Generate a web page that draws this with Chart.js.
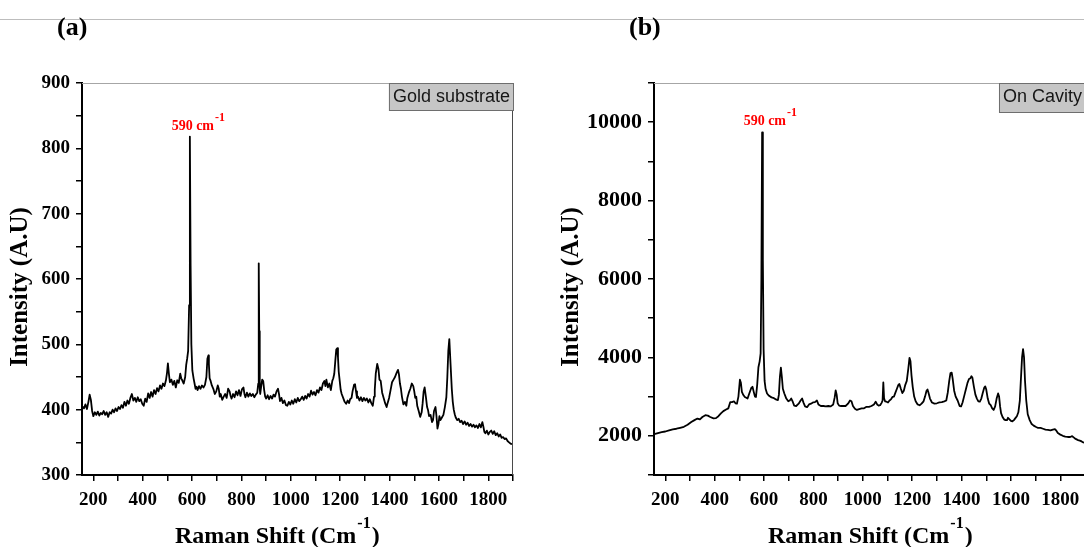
<!DOCTYPE html>
<html>
<head>
<meta charset="utf-8">
<script src="https://cdn.jsdelivr.net/npm/chart.js@4.4.1/dist/chart.umd.min.js"></script>
<style>
html,body{margin:0;padding:0;width:1084px;height:547px;overflow:hidden;background:#fff;}
#wrap{position:relative;width:1084px;height:547px;overflow:hidden;}
#cA{position:absolute;left:0;top:0;}
#cB{position:absolute;left:545px;top:0;}
#rule{position:absolute;left:0;top:19px;width:1084px;height:1px;background:#bdbdbd;}
</style>
</head>
<body>
<div id="wrap">
<div id="rule"></div>
<canvas id="cA" width="545" height="547"></canvas>
<canvas id="cB" width="560" height="547"></canvas>
</div>
<script>
// ---- Panel (a): Gold substrate ----
const ramanShiftA = [155,162,168,174,180,185,190,195,200,206,212,218,224,230,236,242,248,254,260,266,272,278,284,290,296,302,308,314,320,326,332,338,344,350,356,362,368,374,380,386,392,398,404,410,416,422,428,434,440,446,452,458,464,470,476,482,488,494,498,502,506,510,516,522,528,534,540,546,552,556,560,566,572,576,580,584,588,591,594,597,601,606,610,614,618,622,628,634,640,646,652,658,662,666,668,671,675,680,686,692,698,704,708,712,716,722,728,734,740,746,752,756,760,766,772,778,784,790,796,802,808,812,816,822,828,834,840,846,852,858,864,868,870,872,874,876,880,884,888,892,896,900,906,912,918,924,930,936,942,948,952,956,962,968,974,980,986,992,998,1004,1010,1016,1022,1028,1034,1040,1046,1052,1058,1064,1070,1076,1082,1088,1094,1100,1106,1112,1118,1124,1130,1136,1140,1144,1150,1156,1162,1168,1172,1176,1180,1184,1188,1191,1194,1198,1202,1206,1212,1218,1224,1230,1236,1240,1246,1250,1256,1260,1264,1268,1272,1278,1284,1290,1296,1302,1308,1314,1320,1326,1332,1337,1340,1344,1350,1355,1359,1364,1370,1376,1382,1388,1392,1398,1404,1410,1416,1422,1428,1434,1438,1442,1446,1450,1456,1462,1468,1472,1478,1484,1490,1496,1500,1504,1508,1512,1518,1524,1530,1534,1538,1542,1547,1552,1556,1560,1566,1572,1576,1580,1586,1590,1594,1598,1602,1606,1612,1618,1624,1630,1634,1638,1642,1647,1652,1656,1660,1664,1668,1674,1680,1686,1692,1698,1704,1710,1716,1722,1728,1734,1740,1746,1752,1758,1764,1770,1776,1780,1784,1788,1794,1800,1806,1812,1818,1824,1830,1836,1842,1848,1854,1860,1866,1872,1878,1884,1890,1896,1900];
const intensityA = [405,402,408,401,412,423,415,398,390,396,392,397,391,395,393,398,392,396,389,396,394,400,396,402,398,404,401,407,403,412,406,414,409,418,424,414,418,412,419,413,416,409,406,417,412,425,418,427,420,430,424,433,428,437,432,440,436,445,455,471,455,442,446,438,444,434,445,441,455,448,445,440,450,468,478,490,560,818,620,500,460,448,440,432,435,430,436,432,437,434,438,450,478,483,470,448,444,437,432,424,428,437,432,420,424,415,420,424,418,432,428,421,417,424,419,428,422,430,421,431,434,424,419,426,420,425,421,424,419,423,426,440,624,520,432,424,436,446,444,430,420,417,422,416,421,417,423,420,428,432,424,413,418,410,414,407,406,412,408,414,409,416,411,418,413,416,420,415,421,417,424,420,429,423,427,422,430,426,434,430,440,444,436,446,434,440,430,444,448,455,474,492,494,480,458,444,430,424,418,412,409,414,410,416,418,428,438,439,428,418,420,414,419,413,418,414,417,411,416,410,406,420,430,455,470,462,446,444,426,418,410,404,410,418,430,442,446,450,456,461,454,440,432,420,408,412,406,418,426,432,440,436,428,418,420,406,398,389,396,410,428,434,420,404,399,390,392,381,384,398,404,390,371,378,390,384,388,392,404,419,450,490,508,470,432,412,400,393,388,384,386,381,383,378,382,377,380,375,378,374,377,373,376,372,378,373,381,374,366,364,368,362,366,368,363,367,361,364,359,362,357,358,355,356,352,350,348,347];

// ---- Panel (b): On Cavity ----
const ramanShiftB = [155,170,185,200,215,230,245,260,275,290,305,318,330,340,350,362,372,382,395,405,415,425,435,446,455,463,470,478,484,490,496,502,506,510,516,522,528,533,540,548,553,558,563,567,572,577,582,586,589,592,595,598,602,606,612,620,630,640,650,656,660,664,668,672,676,682,690,698,704,710,716,722,730,740,748,754,760,766,774,782,790,798,806,814,820,830,840,850,860,870,880,886,890,894,898,904,912,920,930,940,948,954,960,968,976,985,995,1005,1015,1025,1035,1045,1052,1058,1064,1070,1076,1080,1083,1086,1090,1096,1102,1108,1114,1120,1126,1132,1138,1144,1148,1154,1160,1166,1172,1178,1184,1189,1193,1197,1202,1208,1214,1222,1230,1238,1246,1252,1258,1262,1266,1272,1280,1290,1300,1310,1320,1330,1338,1344,1350,1355,1360,1364,1370,1376,1384,1392,1398,1404,1412,1418,1424,1430,1436,1440,1444,1450,1456,1462,1468,1474,1480,1486,1492,1496,1500,1506,1512,1518,1524,1530,1536,1542,1548,1552,1556,1560,1566,1572,1578,1584,1588,1594,1600,1606,1612,1618,1624,1630,1636,1640,1645,1649,1653,1657,1662,1668,1676,1684,1692,1700,1710,1720,1730,1740,1750,1760,1770,1778,1784,1790,1800,1810,1820,1830,1840,1848,1854,1862,1872,1882,1890,1900];
const intensityB = [2040,2070,2095,2110,2140,2165,2180,2205,2230,2280,2350,2400,2440,2420,2480,2525,2515,2480,2445,2450,2500,2570,2630,2670,2700,2860,2860,2880,2830,2820,3000,3430,3350,3120,3040,2990,2970,2950,3080,3220,3250,3120,3000,2990,3300,3750,3900,4100,6000,9740,6500,4200,3400,3200,3080,3020,2980,2960,2920,2910,3050,3500,3740,3500,3200,3080,2950,2880,2900,2950,2870,2770,2760,2820,2900,2950,2840,2750,2730,2800,2820,2850,2860,2900,2800,2760,2760,2750,2760,2750,2800,2980,3160,3050,2830,2770,2760,2760,2760,2820,2900,2880,2760,2690,2660,2680,2700,2700,2740,2740,2760,2800,2870,2800,2770,2780,2840,2900,3360,2960,2880,2870,2850,2900,2930,2990,3000,3100,3200,3300,3320,3200,3090,3150,3300,3400,3700,3990,3900,3550,3250,3000,2880,2800,2780,2820,2880,3000,3150,3180,3100,2950,2850,2820,2830,2850,2860,2880,2900,3100,3400,3600,3610,3450,3150,3000,2900,2760,2750,2850,3050,3200,3350,3450,3470,3520,3480,3250,3050,2950,2880,2870,2950,3100,3230,3260,3180,2950,2820,2780,2700,2660,2750,2950,3080,3000,2750,2580,2480,2420,2400,2400,2460,2420,2380,2370,2400,2450,2500,2600,2900,3400,4000,4210,4000,3400,2900,2550,2400,2300,2260,2230,2200,2200,2180,2160,2150,2140,2160,2170,2130,2070,2030,2000,1980,1970,1970,1990,1960,1920,1890,1870,1840,1820];

const panelLabels = ['(a)', '(b)'];
const boxLabels = ['Gold substrate', 'On Cavity'];
const peakShift = 590;
const peakLabel = '590 cm';
const xTitle = 'Raman Shift (Cm';
const yTitle = 'Intensity (A.U)';

const SERIF = '"Liberation Serif", "Times New Roman", serif';
const SANS = '"Liberation Sans", Arial, sans-serif';

function pts(xs, ys){ return xs.map((x,i)=>({x:x, y:ys[i]})); }

const decor = {
  id: 'decor',
  afterDraw(chart, args, o) {
    const ctx = chart.ctx, a = chart.chartArea, xs = chart.scales.x, ys = chart.scales.y;
    ctx.save();
    ctx.lineWidth = 1;
    ctx.strokeStyle = '#a6a6a6';
    ctx.beginPath(); ctx.moveTo(a.left, a.top + 0.5); ctx.lineTo(a.right, a.top + 0.5); ctx.stroke();
    ctx.strokeStyle = '#4a4a4a';
    ctx.beginPath(); ctx.moveTo(a.right - 0.5, a.top); ctx.lineTo(a.right - 0.5, a.bottom); ctx.stroke();
    // label box
    ctx.font = '18px ' + SANS;
    const tw = ctx.measureText(o.box).width;
    const bw = tw + 8, bx = a.right + 1 - bw;
    ctx.fillStyle = '#c6c6c6';
    ctx.fillRect(bx, a.top, bw, o.boxH);
    ctx.strokeStyle = '#6e6e6e';
    ctx.strokeRect(bx + 0.5, a.top + 0.5, bw - 1, o.boxH - 1);
    ctx.fillStyle = '#161616';
    ctx.textAlign = 'left'; ctx.textBaseline = 'alphabetic';
    ctx.fillText(o.box, bx + 4, a.top + 18.5);
    // peak annotation
    const px = xs.getPixelForValue(peakShift), py = ys.getPixelForValue(o.peakY);
    ctx.fillStyle = '#ff0000';
    ctx.font = 'bold 14px ' + SERIF;
    ctx.fillText(peakLabel, px - 18, py - 7);
    const pw = ctx.measureText(peakLabel).width;
    ctx.font = 'bold 12px ' + SERIF;
    ctx.fillText('-1', px - 18 + pw + 1, py - 16);
    // x title
    ctx.fillStyle = '#000';
    let tx = a.left + o.xTitleOff;
    const tb = 543;
    ctx.font = 'bold 24px ' + SERIF;
    ctx.fillText(xTitle, tx, tb);
    tx += ctx.measureText(xTitle).width + 1;
    ctx.font = 'bold 16px ' + SERIF;
    ctx.fillText('-1', tx, tb - 15);
    tx += ctx.measureText('-1').width + 1;
    ctx.font = 'bold 24px ' + SERIF;
    ctx.fillText(')', tx, tb);
    // y title
    ctx.save();
    ctx.translate(a.left + o.yTitleOff, 287);
    ctx.rotate(-Math.PI / 2);
    ctx.textAlign = 'center';
    ctx.font = 'bold 25px ' + SERIF;
    ctx.fillText(yTitle, 0, 0);
    ctx.restore();
    // panel label
    ctx.font = 'bold 26px ' + SERIF;
    ctx.textAlign = 'left';
    ctx.fillText(o.panel, o.panelX, 35);
    ctx.restore();
  }
};

function makeChart(id, xs, ys, cfg) {
  return new Chart(document.getElementById(id), {
    type: 'line',
    data: { datasets: [{ data: pts(xs, ys), borderColor: '#000', borderWidth: 1.8, pointRadius: 0, tension: 0, fill: false, borderJoinStyle: 'round' }] },
    options: {
      responsive: false, animation: false, devicePixelRatio: 1,
      layout: { padding: { top: 83, right: cfg.padRight, left: 0, bottom: 0 } },
      plugins: { legend: { display: false }, tooltip: { enabled: false }, decor: cfg.decor },
      scales: {
        x: {
          type: 'linear', min: 154, max: 1900,
          border: { color: '#000', width: 2 },
          grid: { drawOnChartArea: false, drawTicks: true, tickLength: 6, color: '#000', lineWidth: 1.5 },
          ticks: { stepSize: 100, includeBounds: false, autoSkip: false, maxRotation: 0, padding: 8, color: '#000',
                   font: { family: SERIF, weight: 'bold', size: 19 },
                   callback: v => (v % 200 === 0 ? String(v) : '') },
          afterFit: s => { s.height = 72; }
        },
        y: {
          type: 'linear', min: cfg.yMin, max: cfg.yMax,
          border: { color: '#000', width: 2 },
          grid: { drawOnChartArea: false, drawTicks: true, tickLength: 6, color: '#000', lineWidth: 1.5 },
          ticks: { stepSize: cfg.yStep, includeBounds: false, autoSkip: false, padding: 6, color: '#000',
                   font: { family: SERIF, weight: 'bold', size: cfg.yFont },
                   callback: v => (v % cfg.yLabelStep === 0 ? String(v) : '') },
          afterFit: s => { s.width = cfg.yWidth; }
        }
      }
    },
    plugins: [decor]
  });
}

makeChart('cA', ramanShiftA, intensityA, {
  padRight: 32, yMin: 300, yMax: 900, yStep: 50, yLabelStep: 100, yFont: 19, yWidth: 82,
  decor: { box: boxLabels[0], boxH: 28, peakY: Math.max(...intensityA), xTitleOff: 93, yTitleOff: -55, panel: panelLabels[0], panelX: 57 }
});
makeChart('cB', ramanShiftB, intensityB, {
  padRight: 20, yMin: 1000, yMax: 11000, yStep: 1000, yLabelStep: 2000, yFont: 22, yWidth: 109,
  decor: { box: boxLabels[1], boxH: 30, peakY: Math.max(...intensityB), xTitleOff: 114, yTitleOff: -76, panel: panelLabels[1], panelX: 84 }
});
</script>
</body>
</html>
